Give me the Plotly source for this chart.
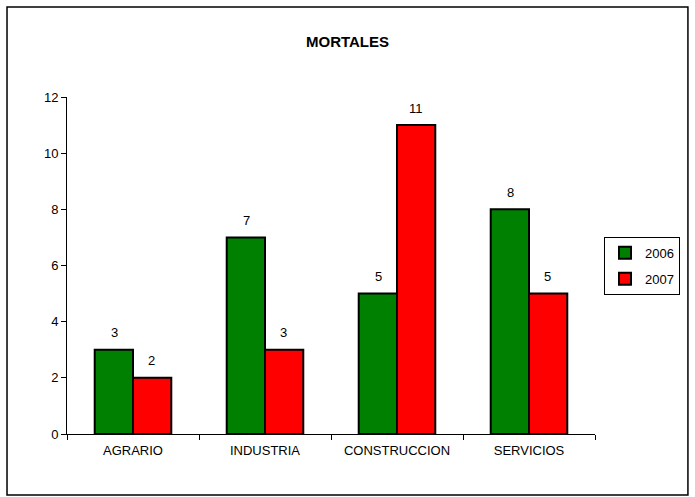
import plotly.graph_objects as go

categories = ["AGRARIO", "INDUSTRIA", "CONSTRUCCION", "SERVICIOS"]
v2006 = [3, 7, 5, 8]
v2007 = [2, 3, 11, 5]

font = "Liberation Sans, Arial, sans-serif"

fig = go.Figure()
fig.add_trace(go.Bar(name="2006", x=categories, y=v2006, legendgroup="a",
                     marker=dict(color="#008000", line=dict(color="black", width=2))))
fig.add_trace(go.Bar(name="2007", x=categories, y=v2007, legendgroup="b",
                     marker=dict(color="#FF0000", line=dict(color="black", width=2))))

# value labels above bars
bar_px = 18.8
for vals, shift in ((v2006, -bar_px), (v2007, bar_px)):
    for c, v in zip(categories, vals):
        fig.add_annotation(x=c, y=v, text=str(v), showarrow=False, xshift=shift,
                           yshift=17, yanchor="middle",
                           font=dict(family=font, size=13, color="black"))

fig.update_layout(
    width=695, height=497,
    margin=dict(l=67, r=100, t=97, b=63, autoexpand=False),
    paper_bgcolor="white", plot_bgcolor="white",
    barmode="group", bargap=0.42, bargroupgap=0,
    font=dict(family=font, size=13, color="black"),
    title=dict(text="<b>MORTALES</b>", x=0.5, xanchor="center", y=0.915, yanchor="middle",
               font=dict(family=font, size=15, color="black")),
    xaxis=dict(showline=True, linecolor="black", linewidth=1, ticks="outside",
               tickson="boundaries", ticklen=5, tickcolor="black", showgrid=False,
               ticklabelstandoff=4, automargin=False,
               tickfont=dict(family=font, size=13)),
    yaxis=dict(range=[0, 12], dtick=2, showline=True, linecolor="black", linewidth=1,
               ticks="outside", ticklen=5, tickcolor="black", showgrid=False, zeroline=False,
               automargin=False,
               tickfont=dict(family=font, size=13)),
    legend=dict(x=1.017, y=0.585, xanchor="left", yanchor="top",
                bordercolor="black", borderwidth=1, bgcolor="white",
                font=dict(family=font, size=13), itemwidth=30, tracegroupgap=6),
    showlegend=True,
)

fig.add_shape(type="rect", xref="paper", yref="paper",
              x0=-0.1136, x1=1.176, y0=-0.181, y1=1.267,
              line=dict(color="black", width=1.5), fillcolor="rgba(0,0,0,0)", layer="below")

fig.write_html("out.html", config={"displayModeBar": False},
               post_script="document.body.style.margin='0';")
